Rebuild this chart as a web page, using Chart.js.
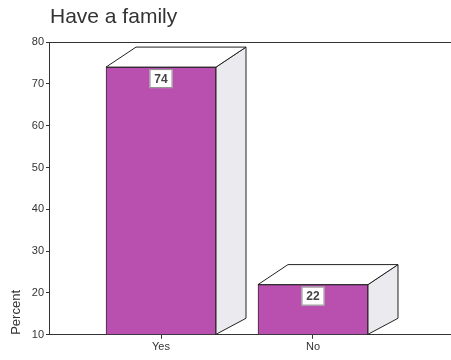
<!DOCTYPE html>
<html>
<head>
<meta charset="utf-8">
<script src="https://cdn.jsdelivr.net/npm/chart.js@4.4.1/dist/chart.umd.min.js"></script>
<style>
  html, body { margin: 0; padding: 0; background: #fff; }
  #wrap { width: 451px; height: 360px; position: relative; }
</style>
</head>
<body>
<div id="wrap"><canvas id="c" width="451" height="360"></canvas></div>
<script>
const titleText = "Have a family";
const categories = ["Yes", "No"];
const percentValues = [74, 22];
const yTicks = [10, 20, 30, 40, 50, 60, 70, 80];
const yAxisLabel = "Percent";

const DX = 30, DY = -20;

const threeD = {
  id: 'threeD',
  afterDatasetsDraw(chart) {
    const ctx = chart.ctx;
    const meta = chart.getDatasetMeta(0);
    meta.data.forEach((bar, i) => {
      const p = bar.getProps(['x', 'y', 'base', 'width'], true);
      const l = p.x - p.width / 2, r = p.x + p.width / 2, t = p.y, b = p.base;
      ctx.save();
      ctx.lineWidth = 1;
      ctx.strokeStyle = '#222';
      // side face
      ctx.beginPath();
      ctx.moveTo(r, t); ctx.lineTo(r + DX, t + DY); ctx.lineTo(r + DX, b + DY + 4); ctx.lineTo(r, b);
      ctx.closePath();
      ctx.fillStyle = '#ebeaee';
      ctx.fill(); ctx.stroke();
      // top face
      ctx.beginPath();
      ctx.moveTo(l, t); ctx.lineTo(l + DX, t + DY); ctx.lineTo(r + DX, t + DY); ctx.lineTo(r, t);
      ctx.closePath();
      ctx.fillStyle = '#ffffff';
      ctx.fill(); ctx.stroke();
      // value label box
      const txt = String(percentValues[i]);
      const bw = 23, bh = 19;
      const bx = p.x - bw / 2, by = t + 2;
      ctx.fillStyle = '#fff';
      ctx.fillRect(bx, by, bw, bh);
      ctx.strokeStyle = '#8a8a8a';
      ctx.strokeRect(bx + 0.5, by + 0.5, bw - 1, bh - 1);
      ctx.fillStyle = '#444';
      ctx.font = 'bold 12px "Liberation Sans", Arial, sans-serif';
      ctx.textAlign = 'center';
      ctx.textBaseline = 'middle';
      ctx.fillText(txt, p.x, by + bh / 2 + 1);
      ctx.restore();
    });
    // title
    ctx.save();
    ctx.fillStyle = '#333';
    ctx.font = '21px "Liberation Sans", Arial, sans-serif';
    ctx.textAlign = 'left';
    ctx.textBaseline = 'alphabetic';
    ctx.fillText(titleText, 50, 23);
    ctx.restore();
  }
};

new Chart(document.getElementById('c'), {
  type: 'bar',
  data: {
    datasets: [{
      data: categories.map((c, i) => ({ x: i, y: percentValues[i] })),
      backgroundColor: '#b94fae',
      borderColor: '#3a2a38',
      borderWidth: 1,
      barThickness: 110,
      base: 10
    }]
  },
  options: {
    responsive: false,
    animation: false,
    layout: { padding: { top: 42, right: 0, bottom: 4, left: 0 } },
    plugins: { legend: { display: false }, tooltip: { enabled: false } },
    scales: {
      x: {
        type: 'linear',
        offset: false,
        min: -0.737,
        max: 1.908,
        afterBuildTicks(scale) { scale.ticks = categories.map((c, i) => ({ value: i })); },
        ticks: {
          callback: (v) => categories[v],
          autoSkip: false,
          font: { size: 11, family: '"Liberation Sans", Arial, sans-serif' },
          color: '#333',
          padding: 2,
          maxRotation: 0
        },
        grid: { offset: false, drawOnChartArea: false, tickLength: 4, color: '#333', tickColor: '#333' },
        border: { color: '#333', width: 1 }
      },
      y: {
        min: 10,
        max: 80,
        afterBuildTicks(scale) { scale.ticks = yTicks.map(v => ({ value: v })); },
        afterFit(scale) { scale.width = 49; },
        ticks: {
          font: { size: 11, family: '"Liberation Sans", Arial, sans-serif' },
          color: '#333',
          padding: 2
        },
        grid: {
          tickLength: 3,
          tickColor: '#333',
          color: (c) => (c.tick && c.tick.value === 80 ? '#333' : 'rgba(0,0,0,0)')
        },
        border: { color: '#333', width: 1 },
        title: {
          display: true,
          text: yAxisLabel,
          align: 'start',
          color: '#333',
          font: { size: 13, family: '"Liberation Sans", Arial, sans-serif' },
          padding: { top: 9, bottom: 0 }
        }
      }
    }
  },
  plugins: [threeD]
});
</script>
</body>
</html>
